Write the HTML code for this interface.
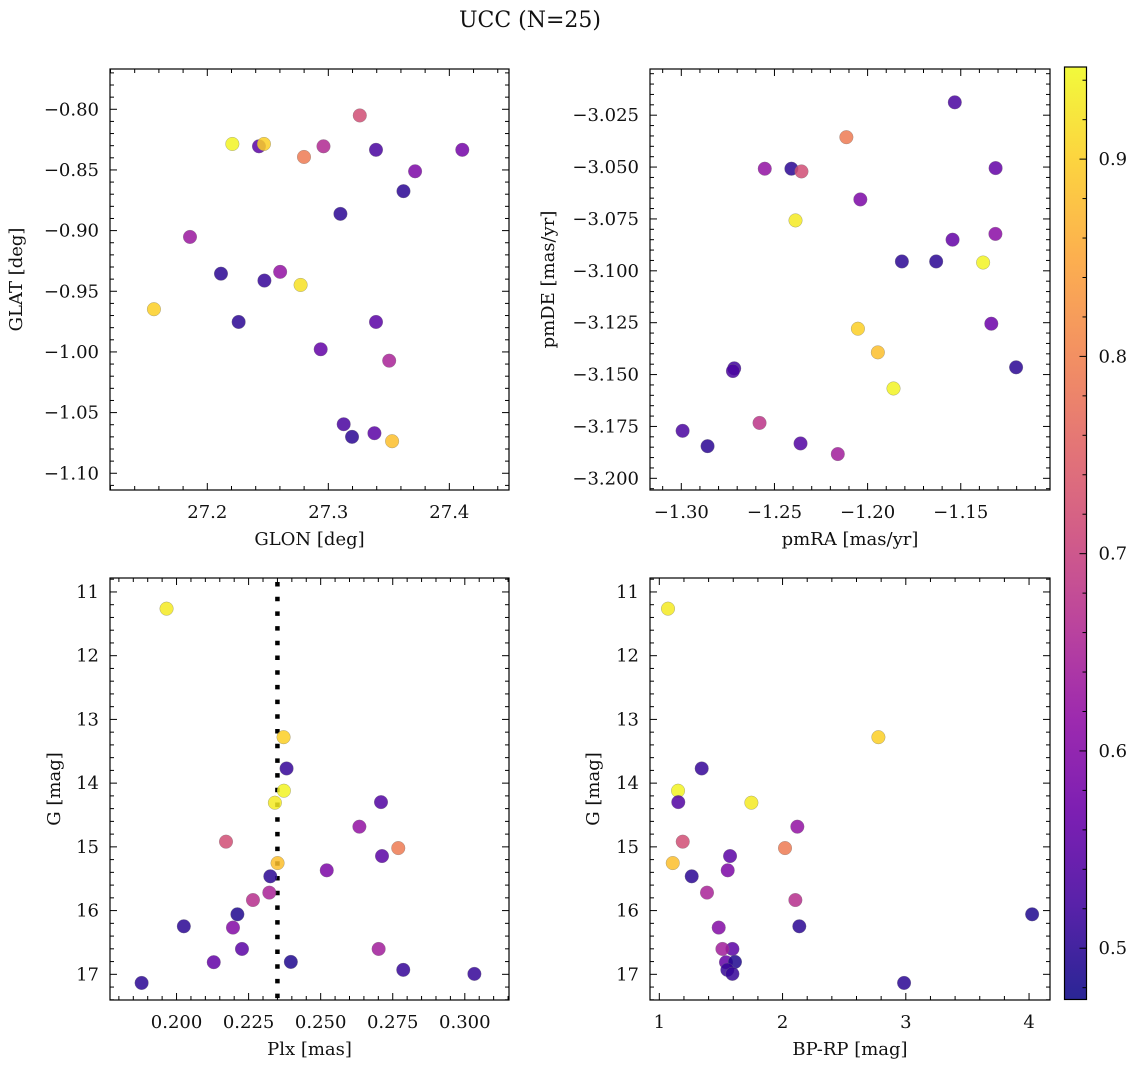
<!DOCTYPE html>
<html><head><meta charset="utf-8">
<style>
html,body{margin:0;padding:0;background:#fff;}
svg{display:block;font-family:"DejaVu Serif","Liberation Serif",serif;}
</style></head>
<body>
<svg id="fig" width="1136" height="1067" viewBox="0 0 1136 1067" xmlns="http://www.w3.org/2000/svg">
<defs><linearGradient id="cbgrad" x1="0" y1="1" x2="0" y2="0"></linearGradient></defs>
<text x="530" y="27" font-size="22" text-anchor="middle" fill="#111">UCC (N=25)</text>
</svg>
<script>
// ---- data ----
const glon = [27.2207,27.2427,27.2468,27.2799,27.2960,27.3260,27.3394,27.4107,27.3717,27.3621,27.3100,27.1857,27.2113,27.2472,27.2602,27.2771,27.1559,27.2259,27.3394,27.2937,27.3503,27.3127,27.3196,27.3381,27.3527];
const glat = [-0.8286,-0.8305,-0.8286,-0.8393,-0.8305,-0.8051,-0.8334,-0.8334,-0.8511,-0.8675,-0.8862,-0.9052,-0.9355,-0.9412,-0.9340,-0.9448,-0.9648,-0.9753,-0.9753,-0.9978,-1.0072,-1.0596,-1.0700,-1.0670,-1.0736];
const probA = [0.94,0.55,0.90,0.79,0.66,0.72,0.53,0.58,0.59,0.50,0.50,0.63,0.50,0.51,0.62,0.92,0.90,0.50,0.55,0.56,0.65,0.53,0.50,0.55,0.88];

const pmra = [-1.1532,-1.2114,-1.2552,-1.2409,-1.2355,-1.1313,-1.2039,-1.2387,-1.1544,-1.1314,-1.1816,-1.1632,-1.1380,-1.1336,-1.2052,-1.1945,-1.1203,-1.2716,-1.2723,-1.1861,-1.2580,-1.2993,-1.2859,-1.2360,-1.2160];
const pmde = [-3.0188,-3.0356,-3.0508,-3.0508,-3.0521,-3.0505,-3.0656,-3.0757,-3.0850,-3.0822,-3.0955,-3.0955,-3.0960,-3.1255,-3.1279,-3.1393,-3.1465,-3.1470,-3.1483,-3.1567,-3.1733,-3.1771,-3.1845,-3.1832,-3.1883];
const probB = [0.53,0.79,0.62,0.50,0.72,0.56,0.59,0.93,0.56,0.61,0.50,0.50,0.94,0.57,0.90,0.88,0.50,0.52,0.53,0.94,0.68,0.53,0.50,0.54,0.64];

const plx = [0.19654,0.23713,0.23817,0.23724,0.23412,0.27093,0.26343,0.21716,0.27692,0.27128,0.23505,0.25211,0.23253,0.23218,0.22651,0.22111,0.20253,0.21958,0.22270,0.27011,0.21291,0.23965,0.27865,0.30332,0.18789];
const bprp = [1.0706,2.7776,1.344,1.152,1.747,1.154,2.120,1.190,2.020,1.574,1.109,1.555,1.263,1.387,2.104,4.025,2.136,1.482,1.593,1.512,1.541,1.614,1.552,1.593,2.986];
const gmag = [11.262,13.279,13.770,14.119,14.307,14.298,14.683,14.918,15.019,15.144,15.254,15.368,15.462,15.718,15.834,16.058,16.246,16.267,16.602,16.602,16.810,16.805,16.930,16.993,17.135];
const probC = [0.93,0.90,0.51,0.94,0.93,0.54,0.62,0.72,0.79,0.55,0.88,0.59,0.50,0.65,0.67,0.49,0.50,0.60,0.55,0.64,0.56,0.49,0.51,0.51,0.50];

const plxRef = [0.2350];

const ticksGlon = [27.2,27.3,27.4];
const ticksGlat = [-0.80,-0.85,-0.90,-0.95,-1.00,-1.05,-1.10];
const ticksPmra = [-1.30,-1.25,-1.20,-1.15];
const ticksPmde = [-3.025,-3.050,-3.075,-3.100,-3.125,-3.150,-3.175,-3.200];
const ticksPlx = [0.200,0.225,0.250,0.275,0.300];
const ticksG = [11,12,13,14,15,16,17];
const ticksBprp = [1,2,3,4];
const ticksCb = [0.5,0.6,0.7,0.8,0.9];

const CMIN = 0.474, CMAX = 0.9467;
// ---- helpers ----
const NS = "http://www.w3.org/2000/svg";
const svg = document.getElementById('fig');
function mk(tag, attrs, parent){ const e=document.createElementNS(NS,tag); for(const k in attrs) e.setAttribute(k,attrs[k]); (parent||svg).appendChild(e); return e; }
const plasmaStops = [[0,'#0d0887'],[0.1,'#41049d'],[0.2,'#6a00a8'],[0.3,'#8f0da4'],[0.4,'#b12a90'],[0.5,'#cc4778'],[0.6,'#e16462'],[0.7,'#f2844b'],[0.8,'#fca636'],[0.9,'#fcce25'],[1,'#f0f921']];
function hex(h){return [parseInt(h.slice(1,3),16),parseInt(h.slice(3,5),16),parseInt(h.slice(5,7),16)];}
function plasma(t){ t=Math.max(0,Math.min(1,t)); for(let i=0;i<plasmaStops.length-1;i++){ const [a,ca]=plasmaStops[i],[b,cb]=plasmaStops[i+1]; if(t<=b){ const f=(t-a)/(b-a); const A=hex(ca),B=hex(cb); return 'rgb('+A.map((v,j)=>Math.round(v+(B[j]-v)*f)).join(',')+')'; } } return '#f0f921'; }
function cmap(v){ return plasma((v-CMIN)/(CMAX-CMIN)); }
function fmt(v,d){ const s=Math.abs(v).toFixed(d); return (v<0?'\u2212':'')+s; }

const TFS = 18, LFS = 18;
function panel(opt){
  const g = mk('g',{});
  
  
  const {x0,x1,y0,y1,xd,yd} = opt;
  const sx = v => x0 + (v-xd[0])/(xd[1]-xd[0])*(x1-x0);
  const sy = v => y0 + (v-yd[0])/(yd[1]-yd[0])*(y1-y0);
  const tg = mk('g',{stroke:'#000','stroke-width':1},g);
  const xmin=Math.min(...xd), xmax=Math.max(...xd), ymin=Math.min(...yd), ymax=Math.max(...yd);
  const start=(lo,step)=>Math.ceil(lo/step-1e-9)*step;
  for(let v=start(xmin,opt.xminor); v<=xmax+1e-9; v+=opt.xminor){
    const isMaj = opt.xt.some(t=>Math.abs(t-v)<opt.xminor/10); const L=isMaj?7:4; const px=sx(v);
    mk('line',{x1:px,x2:px,y1:y1,y2:y1-L},tg); mk('line',{x1:px,x2:px,y1:y0,y2:y0+L},tg);
  }
  for(let v=start(ymin,opt.yminor); v<=ymax+1e-9; v+=opt.yminor){
    const isMaj = opt.yt.some(t=>Math.abs(t-v)<opt.yminor/10); const L=isMaj?7:4; const py=sy(v);
    mk('line',{x1:x0,x2:x0+L,y1:py,y2:py},tg); mk('line',{x1:x1,x2:x1-L,y1:py,y2:py},tg);
  }
  opt.xt.forEach(t=>{ const e=mk('text',{x:sx(t),y:y1+28,'font-size':TFS,'text-anchor':'middle',fill:'#111'},g); e.textContent=fmt(t,opt.xdec);
      });
  opt.yt.forEach(t=>{ const e=mk('text',{x:x0-11,y:sy(t)+6,'font-size':TFS,'text-anchor':'end',fill:'#111'},g); e.textContent=fmt(t,opt.ydec);
      });
  const xl=mk('text',{x:(x0+x1)/2,y:y1+55,'font-size':LFS,'text-anchor':'middle',fill:'#111'},g); xl.textContent=opt.xlabel;
   
  const yl=mk('text',{x:0,y:0,'font-size':LFS,'text-anchor':'middle',fill:'#111',transform:`translate(${opt.ylx},${(y0+y1)/2}) rotate(-90)`},g); yl.textContent=opt.ylabel;
   
  if(opt.vline){ opt.vline.forEach(v=>{ const l=mk('line',{x1:sx(v),x2:sx(v),y1:y0+4,y2:y1,stroke:'#000','stroke-width':4.5,'stroke-dasharray':'4.5 10.2'},g);
      }); }
  const pts = mk('g',{},g);
  opt.xs.forEach((xv,i)=>{
    const c = mk('circle',{cx:sx(xv),cy:sy(opt.ys[i]),r:6.8,fill:cmap(opt.cs[i]),'fill-opacity':0.85,stroke:'#777','stroke-opacity':0.6,'stroke-width':0.5},pts);
    
    
  });
  const fr=mk('rect',{x:x0,y:y0,width:x1-x0,height:y1-y0,fill:'none',stroke:'#000','stroke-width':1.2},g);
   
}

panel({name:'panel-glon-glat',x0:110,x1:509,y0:69,y1:490,xd:[27.1196,27.4493],yd:[-0.7668,-1.1138],xt:ticksGlon,yt:ticksGlat,xminor:0.02,yminor:0.01,xdec:1,ydec:2,xlabel:'GLON [deg]',ylabel:'GLAT [deg]',ylx:22,xs:glon,ys:glat,cs:probA});
panel({name:'panel-pm',x0:650,x1:1050,y0:69,y1:490,xd:[-1.3168,-1.1021],yd:[-3.00274,-3.20563],xt:ticksPmra,yt:ticksPmde,xminor:0.01,yminor:0.005,xdec:2,ydec:3,xlabel:'pmRA [mas/yr]',ylabel:'pmDE [mas/yr]',ylx:554,xs:pmra,ys:pmde,cs:probB});
panel({name:'panel-plx-g',x0:110,x1:509,y0:578,y1:1000,xd:[0.17692,0.31533],yd:[10.781,17.403],xt:ticksPlx,yt:ticksG,xminor:0.005,yminor:0.2,xdec:3,ydec:0,xlabel:'Plx [mas]',ylabel:'G [mag]',ylx:60,xs:plx,ys:gmag,cs:probC,vline:plxRef});
panel({name:'panel-cmd',x0:650,x1:1050,y0:578,y1:1000,xd:[0.9245,4.170],yd:[10.781,17.403],xt:ticksBprp,yt:ticksG,xminor:0.2,yminor:0.2,xdec:0,ydec:0,xlabel:'BP-RP [mag]',ylabel:'G [mag]',ylx:599,xs:bprp,ys:gmag,cs:probC});

(function(){
  const grad=document.getElementById('cbgrad');
  for(let i=0;i<=20;i++){ const t=i/20; mk('stop',{offset:t,'stop-color':plasma(t),'stop-opacity':0.88},grad); }
  const cx0=1064.5, cx1=1086.5, cy0=67, cy1=999.5;
  const sy=v=>cy1-(v-CMIN)/(CMAX-CMIN)*(cy1-cy0);
  const g=mk('g',{});
   
  mk('rect',{x:cx0,y:cy0,width:cx1-cx0,height:cy1-cy0,fill:'url(#cbgrad)',stroke:'#000','stroke-width':1.2},g);
  for(let v=0.48; v<=CMAX; v+=0.02){ const maj=ticksCb.some(t=>Math.abs(t-v)<0.002); const y=sy(v);
    mk('line',{x1:cx1,x2:cx1-(maj?7:4),y1:y,y2:y,stroke:'#000','stroke-width':1},g); }
  ticksCb.forEach(t=>{ const e=mk('text',{x:cx1+12,y:sy(t)+6,'font-size':TFS,fill:'#111'},g); e.textContent=t.toFixed(1);
      });
})();
</script>
</body></html>
